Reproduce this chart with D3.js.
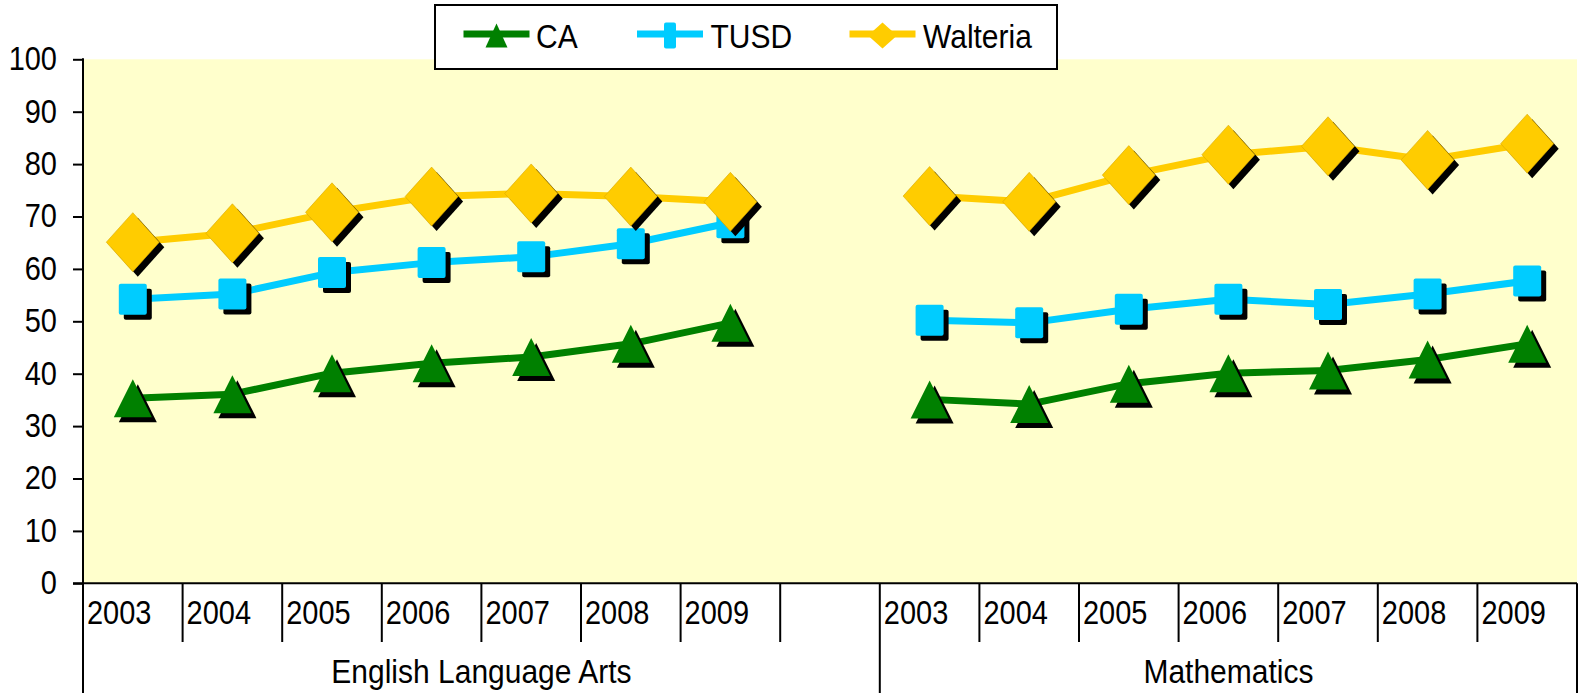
<!DOCTYPE html>
<html>
<head>
<meta charset="utf-8">
<script src="https://cdn.jsdelivr.net/npm/d3@7"></script>
<style>
  html, body { margin: 0; padding: 0; background: #ffffff; }
  svg { display: block; }
  text { font-family: "Liberation Sans", Arial, sans-serif; fill: #000; }
</style>
</head>
<body>
<svg id="chart" width="1583" height="693"></svg>
<script>
// ---------- data ----------
const years = ['2003', '2004', '2005', '2006', '2007', '2008', '2009'];
const subjects = ['English Language Arts', 'Mathematics'];
const seriesNames = ['CA', 'TUSD', 'Walteria'];
const yTicks = [0, 10, 20, 30, 40, 50, 60, 70, 80, 90, 100];

const caELA    = [35.3, 36.1, 40.1, 42.0, 43.2, 45.7, 49.7];
const caMath   = [35.1, 34.2, 38.1, 40.1, 40.6, 42.7, 45.7];
const tusdELA  = [54.2, 55.2, 59.3, 61.2, 62.3, 64.8, 68.8];
const tusdMath = [50.2, 49.7, 52.3, 54.2, 53.2, 55.2, 57.7];
const walELA   = [65.1, 66.8, 70.8, 73.8, 74.4, 73.8, 72.8];
const walMath  = [73.9, 72.8, 77.9, 81.8, 83.4, 80.8, 83.9];

(function () {
// ---------- setup ----------
const colors = { CA: '#008000', TUSD: '#00CCFF', Walteria: '#FFCC00' };
const series = [
  { name: seriesNames[0], shape: 'triangle', values: [caELA, caMath] },
  { name: seriesNames[1], shape: 'square', values: [tusdELA, tusdMath] },
  { name: seriesNames[2], shape: 'diamond', values: [walELA, walMath] }
];

// slots: 7 ELA years, one empty slot, 7 Math years
const slots = [];
years.forEach(yr => slots.push(subjects[0] + '|' + yr));
slots.push(subjects[0] + '|');
years.forEach(yr => slots.push(subjects[1] + '|' + yr));

const pLeft = 83, pRight = 1577, pTop = 59.3, pBottom = 583.3;
const x = d3.scaleBand().domain(slots).range([pLeft, pRight]).padding(0);
const y = d3.scaleLinear().domain([0, 100]).range([pBottom, pTop]);

const svg = d3.select('#chart');
const SY = 1.12; // vertical stretch of text seen in reference

function placeText(sel, tx, ty) {
  sel.attr('x', 0).attr('y', 0)
     .attr('transform', `translate(${tx},${ty}) scale(1,${SY})`);
  return sel;
}

// plot background
svg.append('rect')
  .attr('x', pLeft).attr('y', pTop)
  .attr('width', pRight - pLeft).attr('height', pBottom - pTop)
  .attr('fill', '#FFFFCC');

// ---------- y axis ----------
const yAxis = d3.axisLeft(y).tickValues(yTicks).tickSize(10).tickPadding(16).tickSizeOuter(0);
const gy = svg.append('g').attr('transform', `translate(${pLeft},0)`).call(yAxis);
gy.select('.domain').remove();
gy.selectAll('.tick line').attr('stroke', '#000').attr('stroke-width', 2);
gy.selectAll('.tick text')
  .attr('font-family', '"Liberation Sans", Arial, sans-serif')
  .attr('font-size', 29)
  .attr('fill', '#000')
  .attr('dy', null)
  .attr('x', null)
  .attr('transform', `translate(-26,10.3) scale(1,${SY})`);

// y axis line (extends to bottom of picture, as the group separator)
svg.append('line').attr('x1', pLeft).attr('x2', pLeft).attr('y1', pTop - 1).attr('y2', 693)
  .attr('stroke', '#000').attr('stroke-width', 2);

// ---------- x axis ----------
svg.append('line').attr('x1', pLeft - 10).attr('x2', pRight).attr('y1', pBottom).attr('y2', pBottom)
  .attr('stroke', '#000').attr('stroke-width', 2);

const xg = svg.append('g');
slots.forEach((s, i) => {
  const bx = x(s);
  const isGroupStart = (i === 0 || s === subjects[1] + '|' + years[0]);
  if (i > 0) {
    xg.append('line').attr('x1', bx).attr('x2', bx)
      .attr('y1', pBottom).attr('y2', isGroupStart ? 693 : 642)
      .attr('stroke', '#000').attr('stroke-width', 2);
  }
  const yr = s.split('|')[1];
  if (yr) {
    placeText(xg.append('text'), bx + 4, 624)
      .attr('font-size', 29)
      .attr('text-anchor', 'start')
      .text(yr);
  }
});
// right end separator
xg.append('line').attr('x1', pRight).attr('x2', pRight).attr('y1', pBottom).attr('y2', 693)
  .attr('stroke', '#000').attr('stroke-width', 2);

// group labels
const elaStart = x(subjects[0] + '|' + years[0]);
const mathStart = x(subjects[1] + '|' + years[0]);
placeText(xg.append('text'), (elaStart + mathStart) / 2, 683)
  .attr('font-size', 30).attr('text-anchor', 'middle').text(subjects[0]);
placeText(xg.append('text'), (mathStart + pRight) / 2, 683)
  .attr('font-size', 30).attr('text-anchor', 'middle').text(subjects[1]);

// ---------- markers ----------
function markerPath(shape, w, h) {
  if (shape === 'triangle') return `M0,${-h / 2}L${w / 2},${h / 2}L${-w / 2},${h / 2}Z`;
  if (shape === 'diamond') return `M0,${-h / 2}L${w / 2},0L0,${h / 2}L${-w / 2},0Z`;
  const r = 2;
  return `M${-w / 2 + r},${-h / 2}H${w / 2 - r}Q${w / 2},${-h / 2} ${w / 2},${-h / 2 + r}V${h / 2 - r}Q${w / 2},${h / 2} ${w / 2 - r},${h / 2}H${-w / 2 + r}Q${-w / 2},${h / 2} ${-w / 2},${h / 2 - r}V${-h / 2 + r}Q${-w / 2},${-h / 2} ${-w / 2 + r},${-h / 2}Z`;
}
const markerSize = { triangle: [38, 38], square: [28, 31], diamond: [53, 59] };

const line = d3.line().x(d => d.x).y(d => d.y);

series.forEach(se => {
  const g = svg.append('g');
  const pts = se.values.map((vals, gi) =>
    vals.map((v, i) => ({ x: x(subjects[gi] + '|' + years[i]) + x.bandwidth() / 2, y: y(v) })));
  pts.forEach(p => {
    g.append('path').attr('d', line(p)).attr('fill', 'none')
      .attr('stroke', colors[se.name]).attr('stroke-width', 7).attr('stroke-linejoin', 'round');
  });
  const all = pts.flat();
  const [w, h] = markerSize[se.shape];
  const d = markerPath(se.shape, w, h);
  g.selectAll('.shadow').data(all).enter().append('path')
    .attr('d', d).attr('transform', p => `translate(${p.x + 5},${p.y + 5})`).attr('fill', '#000');
  g.selectAll('.mk').data(all).enter().append('path')
    .attr('d', d).attr('transform', p => `translate(${p.x},${p.y})`)
    .attr('fill', colors[se.name])
    .attr('stroke', se.shape === 'diamond' ? '#D9A800' : 'none')
    .attr('stroke-width', 0.6);
});

// ---------- legend ----------
const lg = svg.append('g');
lg.append('rect').attr('x', 435).attr('y', 5).attr('width', 622).attr('height', 64)
  .attr('fill', '#fff').attr('stroke', '#000').attr('stroke-width', 2);
const legendLineX = [463.5, 637, 849.5];
const legendTextX = [536, 710.5, 923];
const legendMarker = { triangle: [22, 24], square: [12, 26], diamond: [29, 26] };
series.forEach((se, i) => {
  const x0 = legendLineX[i];
  lg.append('line').attr('x1', x0).attr('x2', x0 + 66).attr('y1', 34).attr('y2', 34)
    .attr('stroke', colors[se.name]).attr('stroke-width', 7);
  const [w, h] = legendMarker[se.shape];
  lg.append('path').attr('d', markerPath(se.shape, w, h))
    .attr('transform', `translate(${x0 + 33},35.5)`).attr('fill', colors[se.name]);
  placeText(lg.append('text'), legendTextX[i], 47.5)
    .attr('font-size', 30).text(se.name);
});
})();
</script>
</body>
</html>
